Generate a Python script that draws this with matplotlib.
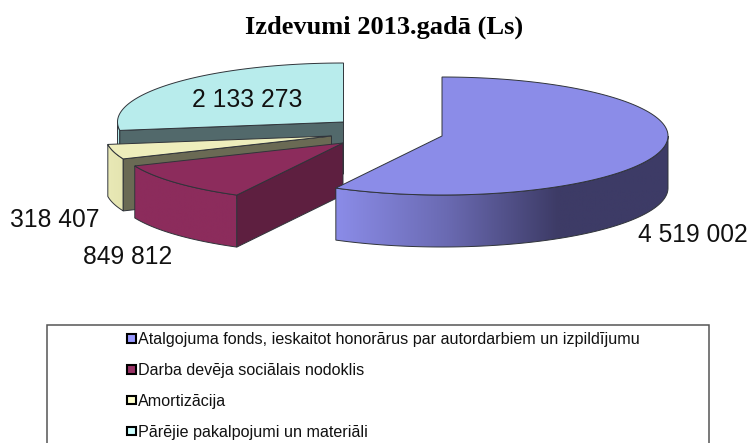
import numpy as np
import matplotlib
matplotlib.use("Agg")
import matplotlib.pyplot as plt
from matplotlib.colors import LinearSegmentedColormap
from matplotlib.patches import Patch, Polygon, Rectangle

title = "Izdevumi 2013.gadā (Ls)"
categories = ["Atalgojuma fonds, ieskaitot honorārus par autordarbiem un izpildījumu",
              "Darba devēja sociālais nodoklis",
              "Amortizācija",
              "Pārējie pakalpojumi un materiāli"]
values = [4519002, 849812, 318407, 2133273]
value_labels = ["4 519 002", "849 812", "318 407", "2 133 273"]
top_colors = ["#8b8ce8", "#8c2c5c", "#eeeebc", "#b8ecec"]
rim_colors = [["#8b8ce8", "#6a6ab2", "#3d3b66", "#3d3b66"], ["#8c2c5c", "#8c2c5c"],
              ["#e9e9b6", "#e4e4b0"], ["#b8ecec", "#a8dcdc"]]
cut_colors = ["#3d3b66", "#5e1f40", "#6a6a54", "#52696b"]
legend_swatches = ["#9999ff", "#993366", "#ffffcc", "#ccffff"]

apex = [(442, 136), (343, 143), (331.5, 136), (343.5, 122)]
label_xy = [(693, 235), (128, 257), (55, 220), (247, 100)]
A, B, DEPTH = 226, 59, 52
EDGE = "#30343a"

fig = plt.figure(figsize=(7.51, 4.43), dpi=100)
ax = fig.add_axes([0, 0, 1, 1])
ax.set_xlim(0, 751)
ax.set_ylim(443, 0)
ax.axis("off")

fractions = np.array(values) / sum(values)
ends = np.cumsum(fractions) * 360
starts = np.r_[0, ends[:-1]]


def rim(i, t0, t1):
    t = np.radians(np.linspace(t0, t1, 200))
    return apex[i][0] + A * np.sin(t), apex[i][1] - B * np.cos(t)


def draw_rim(i):
    # outer wall: only the part that faces the viewer (90..270 deg clockwise from the top)
    t0, t1 = max(starts[i], 90), min(ends[i], 270)
    if i == 3:
        t0, t1 = starts[i], 270
    if t1 <= t0:
        return
    x, y = rim(i, t0, t1)
    pts = np.r_[np.c_[x, y], np.c_[x[::-1], y[::-1] + DEPTH]]
    poly = Polygon(pts, closed=True, fc="none", ec=EDGE, lw=0.7, zorder=3)
    cmap = LinearSegmentedColormap.from_list("r", rim_colors[i])
    im = ax.imshow(np.linspace(0, 1, 256)[None, :], cmap=cmap, aspect="auto",
                   extent=(x.min(), x.max(), y.max() + DEPTH, y.min()), zorder=poly.get_zorder())
    ax.add_patch(poly)
    im.set_clip_path(poly)


def draw_cut(i, angle):
    x, y = rim(i, angle, angle)
    px, py = x[0], y[0]
    ax.fill([apex[i][0], px, px, apex[i][0]], [apex[i][1], py, py + DEPTH, apex[i][1] + DEPTH],
            fc=cut_colors[i], ec=EDGE, lw=0.7, zorder=3)


def draw_top(i):
    x, y = rim(i, starts[i], ends[i])
    ax.fill(np.r_[apex[i][0], x], np.r_[apex[i][1], y], fc=top_colors[i], ec=EDGE, lw=0.7, zorder=3)


# back to front
draw_rim(3); draw_cut(3, starts[3]); draw_top(3)
draw_rim(2); draw_cut(2, starts[2]); draw_top(2)
draw_rim(1); draw_cut(1, starts[1]); draw_top(1)
draw_rim(0); draw_top(0)
ax.set_xlim(0, 751)
ax.set_ylim(443, 0)

fig.text(384 / 751, 1 - 27.5 / 443, title, ha="center", va="center", fontsize=19.0,
         fontweight="bold", family="Liberation Serif", color="black")

for (x, y), s in zip(label_xy, value_labels):
    ax.text(x, y, s, ha="center", va="center", fontsize=17.7, family="Liberation Sans",
            color="#111111", zorder=6)

ax.add_patch(Rectangle((47, 325), 662, 140, fc="white", ec="#555555", lw=1.1, zorder=1))
handles = [Patch(fc=c, ec="black", lw=1.5) for c in legend_swatches]
ax.legend(handles, categories, loc="upper left", bbox_to_anchor=(126.5 / 751, 1 - 332 / 443),
          frameon=False, prop={"family": "Liberation Sans", "size": 11.6},
          labelspacing=0.99, handlelength=0.58, handleheight=0.45, handletextpad=0.14,
          borderpad=0, borderaxespad=0, labelcolor="#111111")

fig.savefig("out.png", dpi=100)
